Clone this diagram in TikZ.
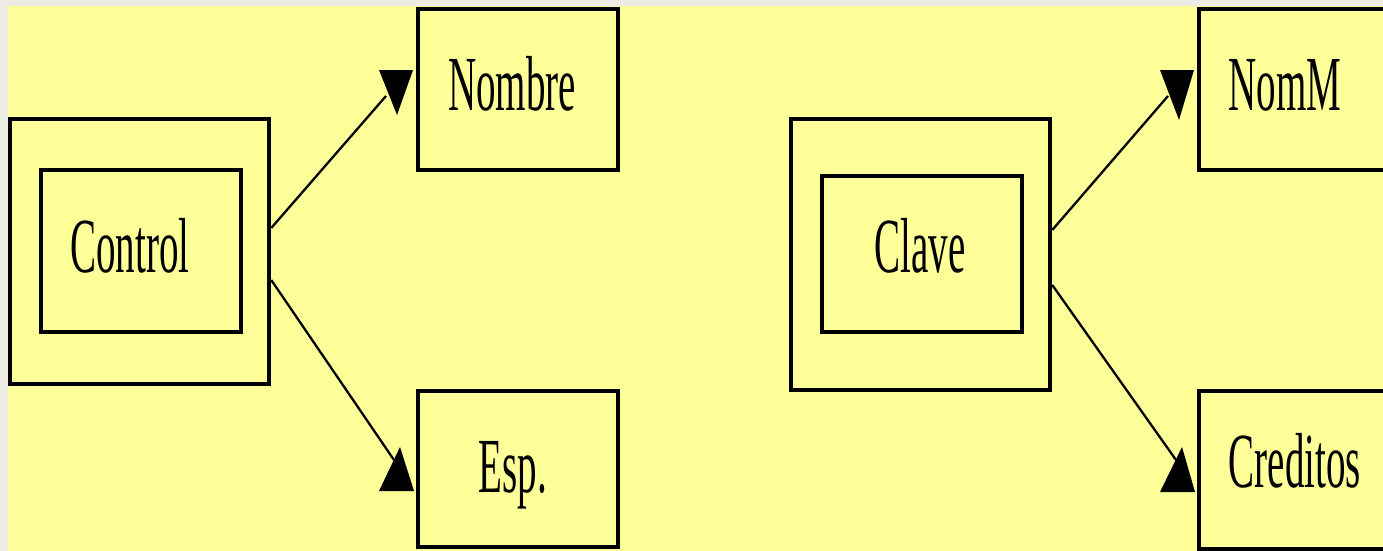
\documentclass[tikz,border=0pt]{standalone}
\usepackage{fontspec}
\newfontfamily\condserif[FakeStretch=0.5]{Liberation Serif}
\definecolor{bgyellow}{HTML}{FFFF99}
\definecolor{bggray}{HTML}{ECECE4}
\begin{document}
\begin{tikzpicture}[x=1pt,y=-1pt,
  box/.style={draw=black,line width=4.5pt,rectangle,inner sep=0pt},
  lbl/.style={anchor=base,inner sep=0pt,font=\condserif\fontsize{78}{80}\selectfont},
  conn/.style={draw=black,line width=2.3pt},
  tip/.style={fill=black}]
\clip (0,0) rectangle (1383,551);
\fill[bggray] (0,0) rectangle (1383,551);
\fill[bgyellow] (8,6) rectangle (1383,551);
% left group
\node[box,minimum width=259pt,minimum height=265pt] (ctrlout) at (139.5,251.5) {};
\node[box,minimum width=200pt,minimum height=162pt] (ctrlin) at (141,251) {};
\node[box,minimum width=200pt,minimum height=161pt] (nombre) at (518,89.5) {};
\node[box,minimum width=200pt,minimum height=156pt] (esp) at (518,469) {};
\node[lbl] (tcontrol) at (130,272) {Control};
\node[lbl] (tnombre) at (512,110) {Nombre};
\node[lbl] (tesp) at (513,492) {Esp.};
% right group
\node[box,minimum width=259pt,minimum height=271pt] (claveout) at (920.5,254.5) {};
\node[box,minimum width=200pt,minimum height=156pt] (clavein) at (922,254) {};
\node[box,minimum width=221pt,minimum height=161pt] (nomm) at (1309.5,89.5) {};
\node[box,minimum width=221pt,minimum height=158pt] (creditos) at (1309.5,470) {};
\node[lbl] (tclave) at (920,272) {Clave};
\node[lbl] (tnomm) at (1285,110) {NomM};
\node[lbl] (tcreditos) at (1295,487) {Creditos};
% connector ends
\coordinate (c1s) at ([yshift=23.5pt]ctrlout.east);
\coordinate (c2s) at ([yshift=-28.5pt]ctrlout.east);
\coordinate (c1e) at (386,96);
\coordinate (c2e) at (394,460);
\coordinate (k1s) at ([yshift=24.5pt]claveout.east);
\coordinate (k2s) at ([yshift=-30.5pt]claveout.east);
\coordinate (k1e) at (1168,96);
\coordinate (k2e) at (1176,460);
\draw[conn] (c1s) -- (c1e);
\draw[conn] (c2s) -- (c2e);
\draw[conn] (k1s) -- (k1e);
\draw[conn] (k2s) -- (k2e);
% arrowheads
\fill[tip] (379,70) -- (413,70) -- (397,115) -- cycle;
\fill[tip] (400,447) -- (379,491) -- (414,491) -- cycle;
\fill[tip] (1160,70) -- (1194,70) -- (1179,120) -- cycle;
\fill[tip] (1182,447) -- (1160,492) -- (1195,492) -- cycle;
\end{tikzpicture}
\end{document}
